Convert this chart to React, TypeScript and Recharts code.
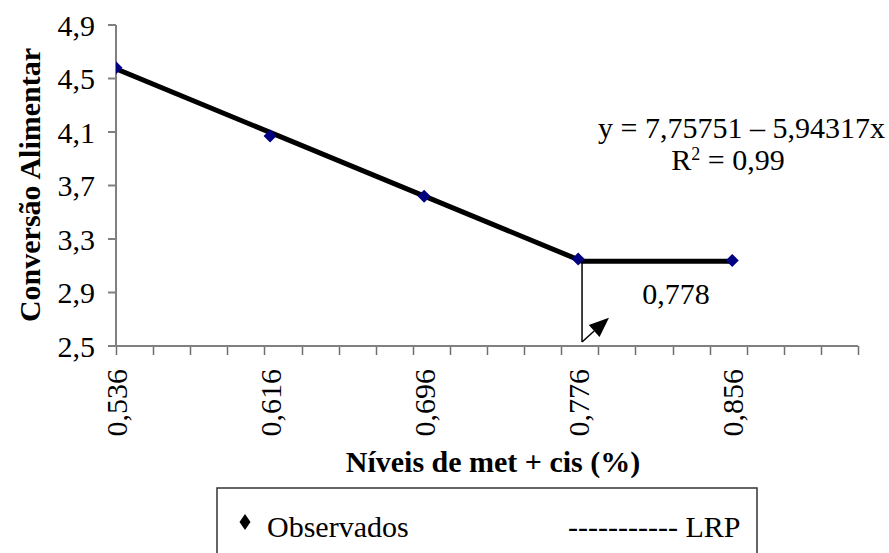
import { ComposedChart, Line, Scatter, XAxis, YAxis, ReferenceLine } from 'recharts';

const FONT = '"Times New Roman", "Liberation Serif", serif';
const AXIS_GREY = '#808080';

// observed feed conversion at each met + cis level
const levels = [0.536, 0.616, 0.696, 0.776, 0.856];
const observed = [4.58, 4.07, 3.62, 3.15, 3.14];

// linear response plateau: y = 7.75751 - 5.94317x until the break, flat after
const lrpLevels = [0.536, 0.778, 0.856];
const lrpValues = [4.572, 3.134, 3.134];

const breakLevel = 0.778;
const arrowTip = { x: 0.792, y: 2.712 };
const arrowBase = 2.53;

const xDomain = [0.536, 0.9213];
const yDomain = [2.5, 4.9];
const yTicks = [2.5, 2.9, 3.3, 3.7, 4.1, 4.5, 4.9];
// 20 equal divisions of the bottom axis get a small tick mark each
const tickMarks = [0, 1, 2, 3, 4, 5, 6, 7, 8, 9, 10, 11, 12, 13, 14, 15, 16, 17, 18, 19, 20];
const markDepth = 0.068; // tick mark length below the axis, in y units

const obsData = levels.map((x, i) => ({ x, y: observed[i] }));
const lrpData = lrpLevels.map((x, i) => ({ x, y: lrpValues[i] }));
const markValues = tickMarks.map((i) => xDomain[0] + (i * (xDomain[1] - xDomain[0])) / 20);

const comma = (v: number) => String(v).replace('.', ',');

const Diamond = (props: any) => {
    const { cx, cy } = props;
    const r = 6.5;
    return (
        <polygon
            points={`${cx},${cy - r} ${cx + r},${cy} ${cx},${cy + r} ${cx - r},${cy}`}
            fill="#000080"
        />
    );
};

// all bottom tick marks drawn together from the x scale
const TickMarks = (props: any) => {
    const { x1, x2, y1, y2 } = props;
    const step = (x2 - x1) / 20;
    return (
        <g>
            {tickMarks.map((i) => {
                const sx = Math.round(x1 + i * step) + 0.5;
                return <line key={i} x1={sx} y1={y1} x2={sx} y2={y1 + 9} stroke="#6e6e6e" strokeWidth={1.5} />;
            })}
        </g>
    );
};

// rotated level label under the axis
const LevelTick = (props: any) => {
    const { x, y, payload } = props;
    const ty = y + 23;
    return (
        <text
            x={x}
            y={ty}
            transform={`rotate(-90 ${x} ${ty})`}
            textAnchor="end"
            dominantBaseline="central"
            fontFamily={FONT}
            fontSize={30}
            fill="#000"
        >
            {comma(payload.value)}
        </text>
    );
};

const Arrow = (props: any) => {
    const { x1, y1, x2, y2 } = props;
    const ang = Math.atan2(y2 - y1, x2 - x1);
    const len = 20;
    const half = 8;
    const bx = x2 - len * Math.cos(ang);
    const by = y2 - len * Math.sin(ang);
    const px = -Math.sin(ang) * half;
    const py = Math.cos(ang) * half;
    return (
        <g>
            <line x1={x1} y1={y1} x2={bx} y2={by} stroke="#000" strokeWidth={1.5} />
            <polygon points={`${x2},${y2} ${bx + px},${by + py} ${bx - px},${by - py}`} fill="#000" />
        </g>
    );
};

export default function App() {
    return (
        <div style={{ position: 'fixed', left: 0, top: 0, width: 889, height: 553, background: '#fff' }}>
            <ComposedChart width={889} height={553} margin={{ top: 25, right: 31, left: 0, bottom: 107 }}>
                <XAxis
                    type="number"
                    dataKey="x"
                    domain={xDomain}
                    ticks={levels}
                    interval={0}
                    stroke={AXIS_GREY}
                    strokeWidth={2}
                    tickLine={false}
                    tickSize={0}
                    tickMargin={0}
                    height={100}
                    tick={<LevelTick />}
                    allowDataOverflow
                />
                <YAxis
                    type="number"
                    domain={yDomain}
                    ticks={yTicks}
                    interval={0}
                    width={116}
                    tickSize={8}
                    tickMargin={13}
                    stroke={AXIS_GREY}
                    strokeWidth={2}
                    tick={{ fontSize: 30, fontFamily: FONT, fill: '#000' }}
                    tickFormatter={comma}
                    allowDataOverflow
                />
                <ReferenceLine
                    segment={[{ x: markValues[0], y: yDomain[0] }, { x: markValues[20], y: yDomain[0] }]}
                    shape={<TickMarks />}
                    ifOverflow="visible"
                />
                <ReferenceLine
                    segment={[{ x: breakLevel, y: arrowBase }, { x: breakLevel, y: lrpValues[1] }]}
                    stroke="#000"
                    strokeWidth={1.5}
                    ifOverflow="visible"
                />
                <ReferenceLine
                    segment={[{ x: breakLevel, y: arrowBase }, arrowTip]}
                    shape={<Arrow />}
                    ifOverflow="visible"
                />
                <Scatter data={obsData} dataKey="y" shape={<Diamond />} isAnimationActive={false} />
                <Line
                    data={lrpData}
                    dataKey="y"
                    type="linear"
                    stroke="#000"
                    strokeWidth={5}
                    dot={false}
                    activeDot={false}
                    isAnimationActive={false}
                />
            </ComposedChart>
            <svg
                width={889}
                height={553}
                style={{ position: 'absolute', left: 0, top: 0, pointerEvents: 'none' }}
                fontFamily={FONT}
                fontSize={30}
            >
                <text
                    x={29}
                    y={185}
                    transform="rotate(-90 29 185)"
                    textAnchor="middle"
                    dominantBaseline="central"
                    fontWeight="bold"
                >
                    Conversão Alimentar
                </text>
                <text x={493} y={472} textAnchor="middle" fontWeight="bold">
                    Níveis de met + cis (%)
                </text>
                <text x={885} y={138} textAnchor="end">
                    y = 7,75751 – 5,94317x
                </text>
                <text x={728} y={170} textAnchor="middle">
                    R<tspan dy={-10} fontSize={18}>2</tspan>
                    <tspan dy={10}> = 0,99</tspan>
                </text>
                <text x={676} y={304} textAnchor="middle">
                    0,778
                </text>
                <rect x={217} y={488} width={540} height={80} fill="none" stroke="#333" strokeWidth={1.5} />
                <polygon points="245,514 250.5,522 245,530 239.5,522" fill="#000" />
                <text x={267} y={537}>Observados</text>
                <text x={568} y={537}>----------- LRP</text>
            </svg>
        </div>
    );
}
